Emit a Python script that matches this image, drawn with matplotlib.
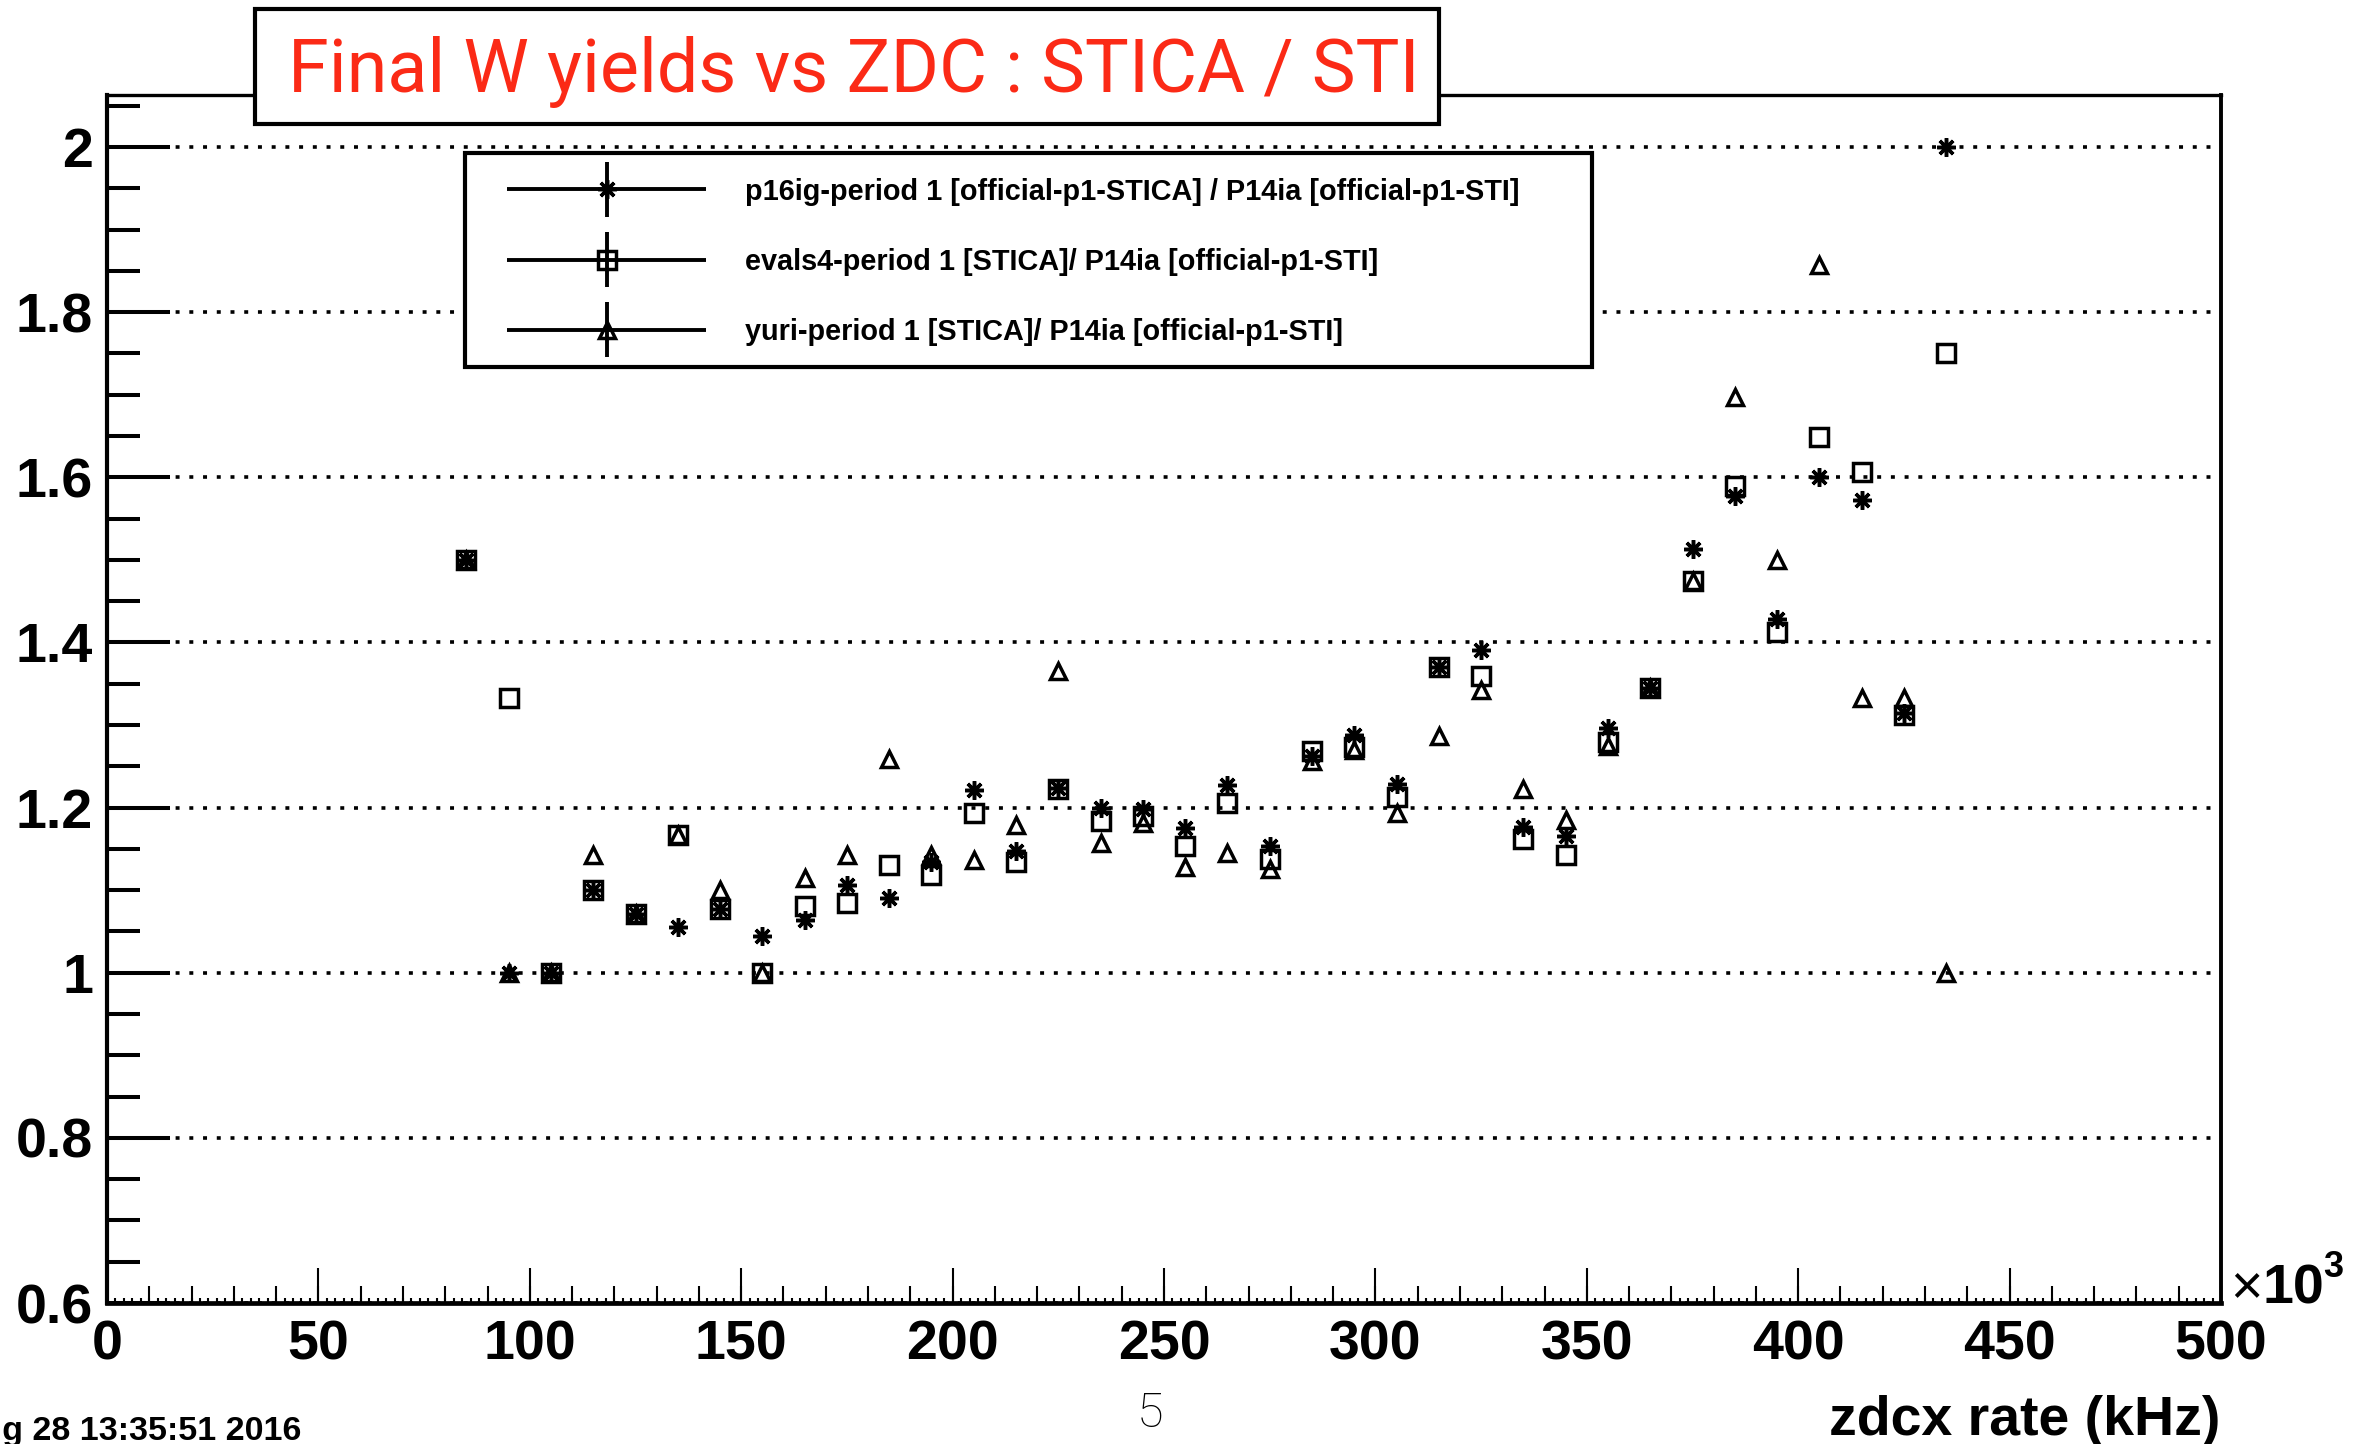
import matplotlib
matplotlib.use("Agg")
import matplotlib.pyplot as plt
from matplotlib.patches import Rectangle
from matplotlib.legend_handler import HandlerErrorbar
from matplotlib.container import ErrorbarContainer
import numpy as np

# ---------------- data ----------------
zdc_rate = [85, 95, 105, 115, 125, 135, 145, 155, 165, 175, 185, 195,
            205, 215, 225, 235, 245, 255, 265, 275, 285, 295, 305, 315,
            325, 335, 345, 355, 365, 375, 385, 395, 405, 415, 425, 435]

p16ig = [1.5, 1.0, 1.0, 1.1, 1.071, 1.055, 1.077, 1.045, 1.064, 1.106, 1.091, 1.134,
         1.221, 1.148, 1.224, 1.2, 1.198, 1.175, 1.227, 1.154, 1.263, 1.288, 1.228, 1.37,
         1.391, 1.176, 1.166, 1.296, 1.345, 1.513, 1.577, 1.428, 1.6, 1.573, 1.314, 2.0]

evals4 = [1.5, 1.333, 1.0, 1.1, 1.071, 1.167, 1.077, 1.0, 1.081, 1.084, 1.130, 1.118,
          1.194, 1.134, 1.222, 1.184, 1.19, 1.154, 1.206, 1.138, 1.269, 1.273, 1.213, 1.37,
          1.359, 1.162, 1.143, 1.279, 1.345, 1.475, 1.589, 1.413, 1.649, 1.606, 1.312, 1.75]

yuri = [1.5, 1.0, 1.0, 1.143, 1.071, 1.167, 1.1, 1.0, 1.115, 1.143, 1.259, 1.143,
        1.137, 1.179, 1.366, 1.157, 1.181, 1.128, 1.145, 1.126, 1.256, 1.27, 1.194, 1.287,
        1.343, 1.223, 1.185, 1.275, 1.345, 1.475, 1.697, 1.5, 1.857, 1.333, 1.333, 1.0]

series_labels = ["p16ig-period 1 [official-p1-STICA] / P14ia [official-p1-STI]",
                 "evals4-period 1 [STICA]/ P14ia [official-p1-STI]",
                 "yuri-period 1 [STICA]/ P14ia [official-p1-STI]"]

x_ticks = [0, 50, 100, 150, 200, 250, 300, 350, 400, 450, 500]
x_tick_labels = ["0", "50", "100", "150", "200", "250", "300", "350", "400", "450", "500"]
y_ticks = [0.6, 0.8, 1.0, 1.2, 1.4, 1.6, 1.8, 2.0]
y_tick_labels = ["0.6", "0.8", "1", "1.2", "1.4", "1.6", "1.8", "2"]

title = "Final W yields vs ZDC : STICA / STI"
x_label = "zdcx rate (kHz)"
date_text = "Aug 28 13:35:51 2016"
page_text = "5"

# ---------------- layout ----------------
W, H = 2374, 1444


def fx(px):
    return px / W


def fy(py):
    return 1 - py / H


plt.rcParams["font.family"] = ["Liberation Sans", "DejaVu Sans"]
plt.rcParams["font.weight"] = "bold"

fig = plt.figure(figsize=(W / 100, H / 100), dpi=100)
ax = fig.add_axes([fx(107), fy(1303), (2221 - 107) / W, (1303 - 95) / H])
ax.set_xlim(0, 500)
ax.set_ylim(0.6, 2.063)

zeros = np.zeros(len(zdc_rate))
star = (8, 2, 0)
styles = [(p16ig, star, 13.5), (evals4, "s", 12.5), (yuri, "^", 11.5)]
for (vals, mk, ms), lab in zip(styles, series_labels):
    ax.errorbar(zdc_rate, vals, xerr=zeros, yerr=zeros, marker=mk, ms=ms, mew=2.5,
                mfc="none", mec="black", color="black", ls="none", ecolor="black",
                elinewidth=2.8, capsize=0, label=lab, zorder=3)

ax.set_xticks(x_ticks, x_tick_labels)
ax.set_xticks(np.arange(0, 501, 2), minor=True)
ax.set_yticks(y_ticks, y_tick_labels)
ax.set_yticks(np.arange(0.6, 2.0626, 0.05), minor=True)

ax.tick_params(axis="x", which="major", direction="in", length=25, width=1.5,
               labelsize=40, pad=12, top=False)
ax.tick_params(axis="x", which="minor", direction="in", length=3.6, width=1.5, top=False)
ax.tick_params(axis="y", which="major", direction="in", length=45, width=2.9,
               labelsize=40, pad=10, right=False)
ax.tick_params(axis="y", which="minor", direction="in", length=24, width=2.9, right=False)

sec = ax.secondary_xaxis("bottom")
sec.set_xticks(np.arange(0, 501, 10))
sec.tick_params(direction="in", length=12, width=1.5, labelbottom=False)
sec.spines["bottom"].set_visible(False)

ax.set_axisbelow(True)
ax.grid(axis="y", which="major", color="black", linestyle=(0, (1.1, 2.7)),
        linewidth=2.6, dash_capstyle="butt")

ax.spines["left"].set_linewidth(3.0)
ax.spines["bottom"].set_linewidth(3.4)
ax.spines["top"].set_linewidth(2.4)
ax.spines["right"].set_linewidth(2.8)

# title box
fig.add_artist(Rectangle((fx(255), fy(124)), (1439 - 255) / W, (124 - 9) / H,
                         transform=fig.transFigure, facecolor="white",
                         edgecolor="black", linewidth=3, zorder=4))
fig.text(fx(854), fy(92), title, ha="center", va="baseline", fontsize=53,
         color="#fb2a16", family=["Roboto", "DejaVu Sans"], fontweight="normal", zorder=6)

# legend box
fig.add_artist(Rectangle((fx(465), fy(367)), (1592 - 465) / W, (367 - 153) / H,
                         transform=fig.transFigure, facecolor="white",
                         edgecolor="black", linewidth=3, zorder=4))
handles, labels = ax.get_legend_handles_labels()
leg = fig.legend(handles, labels, loc="upper left", bbox_to_anchor=(fx(507), fy(177.5)),
                 frameon=False, borderpad=0, borderaxespad=0,
                 prop={"family": "Liberation Sans", "weight": "bold", "size": 20.8},
                 handlelength=6.9, handletextpad=1.35, labelspacing=1.46, numpoints=1,
                 handler_map={ErrorbarContainer: HandlerErrorbar(xerr_size=3.45, yerr_size=0.95)})
leg.set_zorder(6)

# axis label and multiplier
fig.text(fx(2220), fy(1435), x_label, ha="right", va="baseline", fontsize=40,
         fontweight="bold")
fig.text(fx(2230), fy(1303), "\u00d7", ha="left", va="baseline", fontsize=40,
         fontweight="normal")
fig.text(fx(2262), fy(1303), "10", ha="left", va="baseline", fontsize=40,
         fontweight="bold")
fig.text(fx(2323), fy(1277), "3", ha="left", va="baseline", fontsize=26,
         fontweight="bold")

# page number and date
fig.text(fx(1150), fy(1427), page_text, ha="center", va="baseline", fontsize=35,
         color="black", family=["Roboto", "DejaVu Sans"], fontweight="light")
fig.text(fx(301), fy(1440), date_text, ha="right", va="baseline", fontsize=24.5,
         fontweight="bold")

fig.savefig("out.png", dpi=100)
